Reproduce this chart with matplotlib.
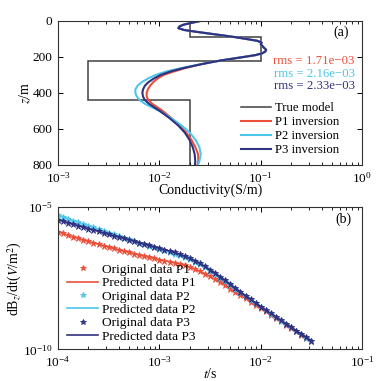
import numpy as np
import matplotlib
matplotlib.use('Agg')
import matplotlib.pyplot as plt

plt.rcParams['font.family'] = 'serif'
plt.rcParams['font.serif'] = ['Liberation Serif', 'DejaVu Serif']
plt.rcParams['mathtext.fontset'] = 'stix'

# colours
RED = '#e8503a'
CYAN = '#4cc6ea'
NAVY = '#2f3182'
GREY = '#404040'

# ---- (a) conductivity models ----
# true layered model
true_edges = [0, 90, 220, 440, 800]
true_sigma = [0.02, 0.1, 0.002, 0.02]

# inversion results, shared upper part (curves overlap there)
z_top = [0, 10, 20, 30, 40, 50, 60, 70, 80, 90, 100, 110, 120, 130, 140,
         150, 160, 170, 180, 190, 200, 210, 220, 230, 240]
sig_top = [0.0255, 0.021, 0.0175, 0.0158, 0.0154, 0.0175, 0.023, 0.031,
           0.042, 0.056, 0.072, 0.092, 0.102, 0.100, 0.104, 0.108, 0.113,
           0.111, 0.103, 0.088, 0.068, 0.052, 0.040, 0.032, 0.026]

z_low = [260, 280, 300, 320, 340, 360, 380, 400, 420, 440, 460, 480, 500,
         540, 580, 620, 660, 700, 740, 780, 800]
sig_p1 = [0.0185, 0.0140, 0.0110, 0.0096, 0.0087, 0.0081, 0.0077, 0.0075,
          0.0075, 0.0078, 0.0085, 0.0096, 0.0108, 0.0132, 0.0158, 0.0184,
          0.0207, 0.0226, 0.0241, 0.0242, 0.0237]
sig_p2 = [0.0170, 0.0118, 0.0092, 0.0077, 0.0067, 0.0061, 0.0058, 0.0058,
          0.0060, 0.0064, 0.0072, 0.0085, 0.0100, 0.0131, 0.0165, 0.0199,
          0.0227, 0.0248, 0.0256, 0.0248, 0.0240]
sig_p3 = [0.0178, 0.0130, 0.0103, 0.0088, 0.0078, 0.0072, 0.0069, 0.0068,
          0.0069, 0.0072, 0.0079, 0.0089, 0.0101, 0.0126, 0.0153, 0.0178,
          0.0198, 0.0213, 0.0223, 0.0226, 0.0224]

rms_labels = ['rms = 1.71e\u221203', 'rms = 2.16e\u221203', 'rms = 2.33e\u221203']

# ---- (b) dB/dt responses (log10 values) ----
t = np.logspace(-4, -1.5, 51)
log_p1 = [-5.87, -5.93, -5.99, -6.05, -6.10, -6.16, -6.21, -6.26, -6.31, -6.36,
          -6.41, -6.46, -6.50, -6.55, -6.59, -6.64, -6.68, -6.72, -6.77, -6.81,
          -6.85, -6.89, -6.92, -6.96, -7.00, -7.05, -7.11, -7.18, -7.26, -7.35,
          -7.44, -7.54, -7.64, -7.75, -7.87, -7.98, -8.10, -8.21, -8.33, -8.44,
          -8.55, -8.67, -8.78, -8.90, -9.01, -9.13, -9.25, -9.36, -9.48, -9.60,
          -9.72]
log_p2 = [-5.28, -5.35, -5.41, -5.48, -5.54, -5.60, -5.66, -5.72, -5.78, -5.84,
          -5.90, -5.96, -6.02, -6.08, -6.14, -6.20, -6.26, -6.31, -6.37, -6.42,
          -6.48, -6.53, -6.58, -6.64, -6.70, -6.77, -6.84, -6.93, -7.02, -7.12,
          -7.24, -7.36, -7.48, -7.61, -7.74, -7.87, -8.00, -8.13, -8.26, -8.38,
          -8.51, -8.63, -8.75, -8.87, -8.99, -9.11, -9.23, -9.35, -9.47, -9.59,
          -9.71]
log_p3 = [-5.45, -5.50, -5.56, -5.61, -5.66, -5.71, -5.76, -5.81, -5.86, -5.91,
          -5.96, -6.01, -6.06, -6.10, -6.15, -6.20, -6.25, -6.30, -6.35, -6.40,
          -6.45, -6.50, -6.55, -6.60, -6.66, -6.73, -6.80, -6.89, -6.98, -7.09,
          -7.20, -7.32, -7.45, -7.58, -7.71, -7.85, -7.98, -8.11, -8.24, -8.37,
          -8.50, -8.62, -8.74, -8.86, -8.98, -9.10, -9.22, -9.34, -9.46, -9.58,
          -9.70]

fig = plt.figure(figsize=(3.89, 3.81), dpi=100)
ax1 = fig.add_axes([0.149, 0.567, 0.782, 0.378])
ax2 = fig.add_axes([0.149, 0.083, 0.782, 0.374])

for ax in (ax1, ax2):
    ax.tick_params(which='both', direction='in', top=True, right=True,
                   labelsize=9.5)
    ax.tick_params(axis='x', pad=4)
    ax.tick_params(axis='y', pad=4)
    ax.tick_params(which='major', length=3.5, width=0.7)
    ax.tick_params(which='minor', length=2, width=0.6)
    for s in ax.spines.values():
        s.set_linewidth(0.8)
        s.set_color('#333333')

# panel (a)
ax1.stairs(true_sigma, true_edges, orientation='horizontal', baseline=None,
           color=GREY, lw=1.1, label='True model')
ax1.plot(sig_top + sig_p1, z_top + z_low, color=RED, lw=1.5, label='P1 inversion')
ax1.plot(sig_top + sig_p2, z_top + z_low, color=CYAN, lw=1.5, label='P2 inversion')
ax1.plot(sig_top + sig_p3, z_top + z_low, color=NAVY, lw=1.5, label='P3 inversion')
ax1.set_xscale('log')
ax1.set_xlim(1e-3, 1)
ax1.set_ylim(800, 0)
ax1.set_yticks([0, 200, 400, 600, 800])
ax1.set_xlabel('Conductivity(S/m)', fontsize=10, labelpad=-1)
ax1.set_ylabel(r'$z$/m', fontsize=10, labelpad=0)
ax1.text(0.955, 0.92, '(a)', transform=ax1.transAxes, ha='right', va='center',
         fontsize=10)
for lab, c, yy in zip(rms_labels, [RED, CYAN, NAVY], [0.72, 0.63, 0.545]):
    ax1.text(0.975, yy, lab, transform=ax1.transAxes, ha='right', va='center',
             color=c, fontsize=9.2)
ax1.legend(loc='lower right', bbox_to_anchor=(0.955, 0.0), frameon=False,
           fontsize=9.2, handlelength=2.4, handletextpad=0.3, labelspacing=0.15,
           borderaxespad=0.3)

# panel (b)
for logv, c, n in zip([log_p1, log_p2, log_p3], [RED, CYAN, NAVY], ['P1', 'P2', 'P3']):
    v = 10.0 ** np.array(logv)
    ax2.plot(t, v, ls='none', marker='*', ms=4.5, mec=c, mfc=c, mew=0.6,
             label='Original data ' + n)
    ax2.plot(t, v, color=c, lw=1.2, label='Predicted data ' + n)
ax2.set_xscale('log')
ax2.set_yscale('log')
ax2.set_xlim(1e-4, 1e-1)
ax2.set_ylim(1e-10, 1e-5)
ax2.set_yticks([1e-10, 1e-5])
ax2.yaxis.set_minor_locator(matplotlib.ticker.NullLocator())
ax2.set_xlabel(r'$t$/s', fontsize=10, labelpad=-2)
ax2.set_ylabel(r'dB$_z$/dt($V$/m$^2$)', fontsize=10, labelpad=-1)
ax2.text(0.965, 0.91, '(b)', transform=ax2.transAxes, ha='right', va='center',
         fontsize=10)
ax2.legend(loc='lower left', bbox_to_anchor=(0.005, -0.01), frameon=False,
           fontsize=9.6, handlelength=2.3, handletextpad=0.3, labelspacing=0.08,
           borderaxespad=0.2, markerscale=0.9)

fig.savefig('out.png', dpi=100)
